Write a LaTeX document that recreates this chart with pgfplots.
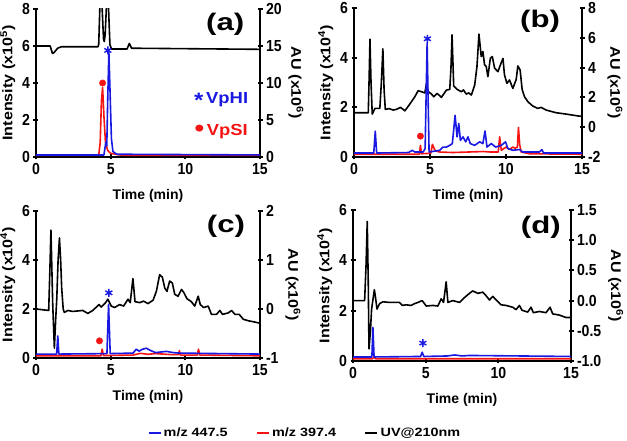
\documentclass[border=0pt]{standalone}
\usepackage{fontspec}
\setmainfont{Liberation Sans}
\newfontfamily\tickfont{Liberation Sans}[FakeStretch=0.88]
\newfontfamily\rotfont{Liberation Sans}[FakeStretch=1.15]
\newfontfamily\panelfont{Liberation Sans}[FakeStretch=1.3]
\newfontfamily\annfont{Liberation Sans}[FakeStretch=1.15]
\newfontfamily\legfont{Liberation Sans}[FakeStretch=1.2]
\usepackage{pgfplots}
\pgfplotsset{compat=1.18}
\definecolor{blueC}{RGB}{25,25,225}
\definecolor{redC}{RGB}{245,20,20}
\tikzset{plabel/.style={font=\panelfont\bfseries\fontsize{24}{24}\selectfont},
  tr/.style={line width=1.6pt, line join=round}}
\pgfplotsset{
 panel/.style={scale only axis, xmin=0, xmax=15,
   tick style={line width=2pt, black}, major tick length=5pt, tick align=outside,
   ticklabel style={font=\tickfont\bfseries\fontsize{16}{16}\selectfont},
   /pgf/number format/assume math mode=true},
 leftax/.style={panel, axis x line=bottom, axis y line=left,
   x axis line style={-, line width=2.4pt}, y axis line style={-, line width=2.4pt},
   xtick={0,5,10,15}, xlabel={Time (min)},
   xlabel style={font=\bfseries\fontsize{14}{14}\selectfont, yshift=-8pt},
   ylabel style={font=\rotfont\bfseries\fontsize{14}{14}\selectfont}},
 rightax/.style={panel, axis x line=none, axis y line=right,
   y axis line style={-, line width=2.4pt},
   ylabel={AU (x10\textsuperscript{6})},
   ylabel style={font=\rotfont\bfseries\fontsize{14}{14}\selectfont, rotate=180}},
}
\begin{document}
\begin{tikzpicture}
\path[use as bounding box] (0,0) rectangle (627pt,441pt);
% ---------------- (a)
\begin{axis}[rightax, at={(36pt,284pt)}, anchor=south west, width=224pt, height=148pt,
  ymin=0, ymax=20, ytick={0,5,10,15,20}]
\addplot[black, tr] coordinates {(0,15.0)(0.95,15.0)(1.1,14.0)(1.2,14.1)(1.45,14.7)(1.7,14.9)(4.15,14.9)(4.2,15.2)(4.28,20.5)(4.35,21)(4.42,20.5)(4.52,16)(4.57,15.6)(4.63,16.5)(4.72,20.5)(4.78,21)(4.85,20.5)(4.95,15.2)(5.05,14.6)(6.1,14.6)(6.25,15.35)(6.4,14.7)(15,14.55)};
\end{axis}
\begin{axis}[leftax, at={(36pt,284pt)}, anchor=south west, width=224pt, height=148pt,
  ymin=0, ymax=8, ytick={0,2,4,6,8}, ylabel={Intensity (x10\textsuperscript{5})}]
\addplot[redC, tr] coordinates {(0,0.09)(4.2,0.09)(4.3,0.8)(4.38,3.0)(4.46,3.76)(4.55,2.2)(4.65,0.8)(4.8,0.35)(5.0,0.2)(5.5,0.12)(6.0,0.09)(15,0.09)};
\addplot[blueC, tr] coordinates {(0,0.11)(4.55,0.11)(4.62,0.5)(4.68,0.8)(4.74,0.6)(4.8,3.0)(4.88,5.7)(4.96,3.5)(5.05,1.0)(5.15,0.3)(5.4,0.15)(15,0.11)};
\addplot[only marks, mark=asterisk, mark size=4pt, blueC, line width=1.4pt] coordinates {(4.81,5.76)};
\addplot[only marks, mark=*, mark size=3.2pt, redC] coordinates {(4.46,4.0)};
\node[text=blueC, font=\annfont\bfseries\fontsize{16}{16}\selectfont] at (axis cs:12.4,3.08) {\raisebox{-0.4ex}{\scalebox{1.3}{*}}\,VpHI};
\node[text=redC, font=\annfont\bfseries\fontsize{16}{16}\selectfont] at (axis cs:12.4,1.35) {\raisebox{-0.1ex}{\scalebox{1.5}{\textbullet}}\,VpSI};
\node[plabel] at (rel axis cs:0.845,0.90) {(a)};
\end{axis}
% ---------------- (b)
\begin{axis}[rightax, at={(354pt,284pt)}, anchor=south west, width=228pt, height=149pt,
  ymin=-2, ymax=8, ytick={-2,0,2,4,6,8}]
\addplot[black, tr] coordinates {(0,0.97)(0.94,0.97)(1.0,3.5)(1.05,5.91)(1.12,3.0)(1.2,0.88)(1.38,1.26)(1.7,1.26)(1.8,3.0)(1.9,5.26)(1.98,2.5)(2.06,1.19)(2.3,1.25)(2.58,1.15)(2.8,1.2)(3.06,1.33)(3.35,1.1)(3.67,1.55)(4.0,2.04)(4.22,2.45)(4.44,2.38)(4.66,2.3)(4.77,2.94)(4.88,2.4)(5.1,2.22)(5.25,2.04)(5.47,2.27)(5.75,2.0)(6.08,2.49)(6.3,2.54)(6.38,4.0)(6.45,6.2)(6.52,4.0)(6.56,2.76)(6.78,2.54)(7.06,2.38)(7.2,2.5)(7.39,2.22)(7.55,2.3)(7.72,2.16)(7.94,2.83)(8.09,4.07)(8.22,6.25)(8.37,4.74)(8.48,5.08)(8.59,4.18)(8.7,4.07)(8.81,3.39)(8.97,4.63)(9.1,4.74)(9.25,3.96)(9.47,3.73)(9.69,4.34)(9.8,4.61)(9.9,3.51)(10.06,2.94)(10.23,3.17)(10.45,2.6)(10.67,3.2)(10.78,4.11)(10.93,3.84)(11.06,2.54)(11.22,2.04)(11.44,1.71)(11.76,1.42)(12.09,1.26)(12.31,1.33)(12.64,1.15)(13.3,0.97)(13.95,0.88)(14.83,0.74)(15,0.74)};
\end{axis}
\begin{axis}[leftax, at={(354pt,284pt)}, anchor=south west, width=228pt, height=149pt,
  ymin=0, ymax=6, ytick={0,2,4,6}, ylabel={Intensity (x10\textsuperscript{4})}]
\addplot[redC, tr] coordinates {(0,0.11)(4.3,0.11)(4.37,0.47)(4.44,0.13)(5.05,0.15)(5.16,0.51)(5.3,0.3)(5.38,0.24)(5.64,0.2)(6.5,0.18)(7.5,0.2)(8.5,0.22)(9.0,0.2)(9.49,0.2)(9.58,0.81)(9.69,0.27)(10.0,0.4)(10.23,0.3)(10.45,0.4)(10.6,0.35)(10.75,0.4)(10.82,1.19)(10.9,0.5)(11.0,0.2)(11.55,0.13)(15,0.11)};
\addplot[blueC, tr] coordinates {(0,0.16)(1.3,0.16)(1.4,1.04)(1.49,0.16)(3.6,0.18)(3.83,0.27)(4.0,0.2)(4.55,0.2)(4.68,0.34)(4.81,4.58)(4.94,0.2)(5.64,0.27)(5.86,0.4)(6.08,0.4)(6.3,0.47)(6.47,0.54)(6.65,1.68)(6.78,0.81)(6.89,1.35)(7.0,0.67)(7.17,0.81)(7.35,0.61)(7.5,0.81)(7.65,0.54)(7.94,0.47)(8.27,0.61)(8.48,0.54)(8.62,1.05)(8.75,0.4)(9.03,0.54)(9.32,0.4)(9.69,0.47)(9.97,0.61)(10.12,0.34)(10.45,0.27)(10.89,0.3)(11.1,0.2)(12.2,0.2)(12.36,0.3)(12.47,0.16)(15,0.16)};
\addplot[only marks, mark=asterisk, mark size=4pt, blueC, line width=1.4pt] coordinates {(4.83,4.76)};
\addplot[only marks, mark=*, mark size=3.2pt, redC] coordinates {(4.37,0.84)};
\node[plabel] at (rel axis cs:0.816,0.91) {(b)};
\end{axis}
% ---------------- (c)
\begin{axis}[rightax, at={(36pt,83pt)}, anchor=south west, width=224pt, height=147pt,
  ymin=-1, ymax=2, ytick={-1,0,1,2}]
\addplot[black, tr] coordinates {(0,0.0)(0.85,-0.03)(0.93,0.8)(1.0,1.61)(1.08,0.6)(1.12,0.09)(1.23,-0.80)(1.32,-0.2)(1.39,0.2)(1.48,1.0)(1.57,1.45)(1.65,1.0)(1.72,0.43)(1.82,0.0)(1.9,-0.07)(2.13,-0.03)(2.46,-0.05)(3.13,-0.03)(3.47,-0.09)(3.8,-0.03)(4.22,0.09)(4.37,0.04)(4.66,0.13)(4.81,0.2)(5.04,0.06)(5.26,0.03)(5.6,0.09)(5.87,0.06)(6.16,0.2)(6.31,0.13)(6.49,0.62)(6.63,0.15)(6.94,0.13)(7.2,0.16)(7.5,0.11)(7.84,0.18)(8.06,0.36)(8.28,0.70)(8.46,0.65)(8.62,0.43)(8.77,0.36)(8.95,0.57)(9.13,0.53)(9.29,0.30)(9.51,0.26)(9.74,0.40)(9.91,0.33)(10.11,0.21)(10.4,0.15)(10.63,0.06)(10.86,0.26)(11.0,0.09)(11.23,0.03)(11.53,0.06)(11.75,-0.11)(12.09,-0.11)(12.31,-0.03)(12.49,-0.11)(12.87,-0.08)(13.1,-0.03)(13.32,-0.11)(13.61,-0.11)(13.88,-0.21)(14.22,-0.24)(14.55,-0.26)(15,-0.29)};
\end{axis}
\begin{axis}[leftax, at={(36pt,83pt)}, anchor=south west, width=224pt, height=147pt,
  ymin=0, ymax=6, ytick={0,2,4,6}, ylabel={Intensity (x10\textsuperscript{4})},
  legend columns=3,
  legend style={at={(1.2,-0.51)}, anchor=center, draw=none, fill=none,
    font=\legfont\bfseries\fontsize{12}{12}\selectfont,
    /tikz/every even column/.append style={column sep=26pt}},
  legend image code/.code={\draw[#1] (0pt,0pt) -- (12pt,0pt);}]
\addlegendimage{blueC, line width=2.4pt}\addlegendentry{m/z 447.5}
\addlegendimage{redC, line width=2.4pt}\addlegendentry{m/z 397.4}
\addlegendimage{black, line width=2.4pt}\addlegendentry{UV@210nm}
\addplot[redC, tr, forget plot] coordinates {(0,0.09)(4.35,0.09)(4.43,0.36)(4.52,0.1)(6.5,0.12)(7.0,0.19)(7.5,0.15)(8.0,0.18)(9.0,0.14)(9.55,0.14)(9.6,0.3)(9.68,0.12)(10.8,0.12)(10.88,0.36)(10.97,0.12)(15,0.09)};
\addplot[blueC, tr, forget plot] coordinates {(0,0.16)(1.38,0.16)(1.46,0.9)(1.53,0.16)(4.75,0.18)(4.86,2.19)(4.97,0.18)(6.5,0.2)(6.72,0.36)(6.9,0.28)(7.1,0.35)(7.39,0.40)(7.62,0.32)(8.0,0.22)(8.73,0.27)(9.18,0.22)(9.6,0.2)(15,0.16)};
\addplot[only marks, mark=asterisk, mark size=4pt, blueC, line width=1.4pt, forget plot] coordinates {(4.88,2.66)};
\addplot[only marks, mark=*, mark size=3.2pt, redC, forget plot] coordinates {(4.25,0.70)};
\node[plabel] at (rel axis cs:0.848,0.895) {(c)};
\end{axis}
% ---------------- (d)
\begin{axis}[rightax, at={(353pt,80pt)}, anchor=south west, width=218pt, height=151pt,
  ymin=-1, ymax=1.5, ytick={-1,-0.5,0,0.5,1,1.5},
  yticklabel style={/pgf/number format/.cd, fixed, fixed zerofill, precision=1}]
\addplot[black, tr] coordinates {(0,0.0)(0.8,0.0)(0.9,0.6)(0.98,1.31)(1.05,0.3)(1.1,-0.80)(1.2,-0.5)(1.28,-0.14)(1.47,0.18)(1.55,0.05)(1.65,-0.14)(1.83,-0.05)(2.06,-0.02)(2.52,-0.03)(3.2,-0.03)(3.39,-0.08)(3.66,-0.07)(4.0,-0.08)(4.24,-0.05)(4.47,-0.03)(4.76,0.0)(5.04,-0.09)(5.5,-0.08)(5.84,-0.09)(6.07,0.03)(6.23,-0.03)(6.41,0.31)(6.53,-0.03)(6.87,0.0)(7.33,-0.03)(7.67,0.05)(8.01,0.12)(8.24,0.16)(8.59,0.12)(8.93,0.14)(9.16,0.08)(9.39,0.01)(9.62,0.07)(9.85,0.01)(10.19,-0.07)(10.53,-0.08)(10.99,-0.11)(11.22,-0.15)(11.45,-0.08)(11.63,-0.16)(12.02,-0.19)(12.25,-0.11)(12.41,-0.2)(12.82,-0.18)(13.28,-0.2)(13.56,-0.11)(13.74,-0.22)(14.2,-0.24)(14.65,-0.28)(15,-0.28)};
\end{axis}
\begin{axis}[leftax, at={(353pt,80pt)}, anchor=south west, width=218pt, height=151pt,
  ymin=0, ymax=6, ytick={0,2,4,6}, ylabel={Intensity (x10\textsuperscript{4})}]
\addplot[redC, tr] coordinates {(0,0.09)(1.35,0.09)(1.45,0.15)(1.55,0.09)(15,0.09)};
\addplot[blueC, tr] coordinates {(0,0.16)(1.3,0.16)(1.37,1.34)(1.45,0.16)(4.65,0.18)(4.76,0.35)(4.87,0.18)(6.5,0.2)(7.0,0.24)(7.5,0.2)(8.0,0.22)(15,0.18)};
\addplot[only marks, mark=asterisk, mark size=4pt, blueC, line width=1.4pt] coordinates {(4.81,0.71)};
\node[plabel] at (rel axis cs:0.862,0.884) {(d)};
\end{axis}
\end{tikzpicture}
\end{document}
